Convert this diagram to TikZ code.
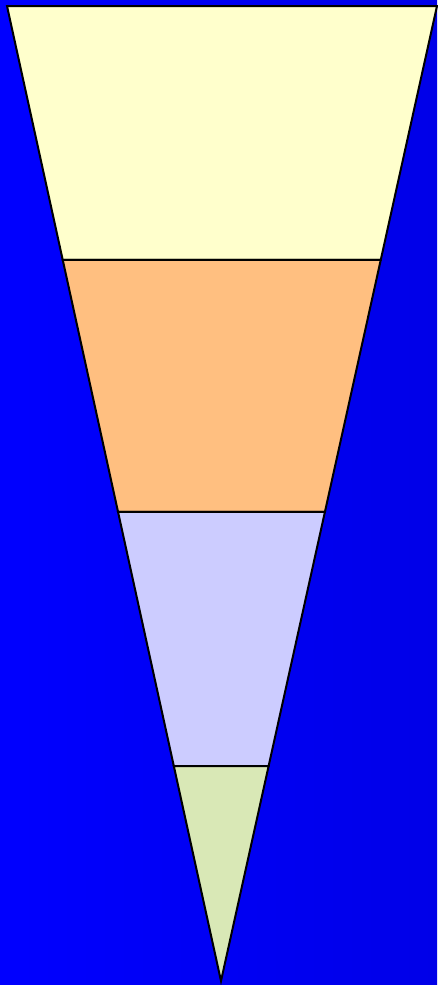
\documentclass[tikz,border=0pt]{standalone}
\usetikzlibrary{calc}
\definecolor{bandA}{HTML}{FFFFCC}
\definecolor{bandB}{HTML}{FFBF80}
\definecolor{bandC}{HTML}{CCCCFF}
\definecolor{bandD}{HTML}{D9E8B6}
\definecolor{bgL}{HTML}{0000FF}
\definecolor{bgR}{HTML}{0000E8}
\tikzset{band/.style={draw=black, line width=2pt, line join=miter}}
\begin{document}
\begin{tikzpicture}[x=1pt,y=-1pt]
\shade[left color=bgL, right color=bgR] (0,0) rectangle (437,985);
\useasboundingbox (0,0) rectangle (437,985);
\coordinate (TL) at (7,6);
\coordinate (TR) at (437,6);
\coordinate (A) at (221,981);
\coordinate (L1) at ($(TL)!254/975!(A)$);
\coordinate (R1) at ($(TR)!254/975!(A)$);
\coordinate (L2) at ($(TL)!506/975!(A)$);
\coordinate (R2) at ($(TR)!506/975!(A)$);
\coordinate (L3) at ($(TL)!760/975!(A)$);
\coordinate (R3) at ($(TR)!760/975!(A)$);
\filldraw[band, fill=bandA] (TL) -- (TR) -- (R1) -- (L1) -- cycle;
\filldraw[band, fill=bandB] (L1) -- (R1) -- (R2) -- (L2) -- cycle;
\filldraw[band, fill=bandC] (L2) -- (R2) -- (R3) -- (L3) -- cycle;
\filldraw[band, fill=bandD] (L3) -- (R3) -- (A) -- cycle;
\end{tikzpicture}
\end{document}
